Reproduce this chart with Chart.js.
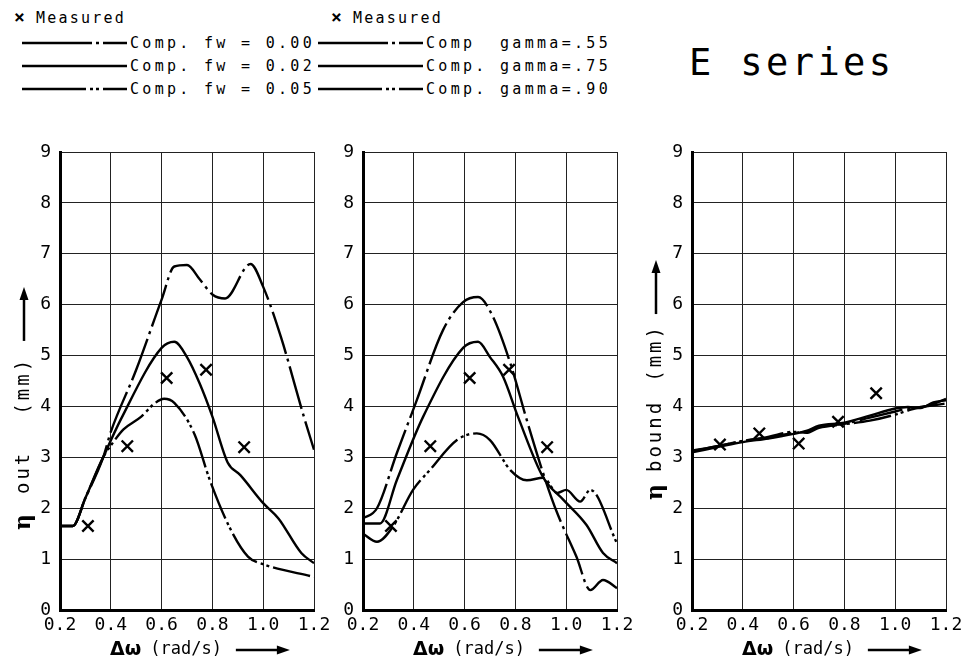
<!DOCTYPE html>
<html lang="en">
<head>
<meta charset="UTF-8">
<title>E series</title>
<script src="https://cdn.jsdelivr.net/npm/chart.js"></script>
<style>
    body {
        margin: 0;
        width: 963px;
        height: 665px;
        position: relative;
        overflow: hidden;
        background: #fff;
        color: #000;
        font-family: "DejaVu Sans Mono", monospace;
    }
    .panel {
        position: absolute;
        top: 130px;
        width: 330px;
        height: 535px;
    }
    .lg {
        position: absolute;
        font-size: 15px;
        letter-spacing: 3.3px;
        white-space: pre;
        line-height: 16px;
        height: 16px;
    }
    .lg svg {
        position: absolute;
    }
    .lg b {
        font-size: 18px;
        letter-spacing: 0;
    }
    .title {
        position: absolute;
        left: 689px;
        top: 44px;
        font-size: 37px;
        line-height: 37px;
        letter-spacing: 3.4px;
        white-space: pre;
    }
</style>
</head>
<body>
<div id="legend"></div>
<div class="title">E series</div>
<div class="panel" style="left:0"><canvas id="out1" width="330" height="535"></canvas></div>
<div class="panel" style="left:303px"><canvas id="out2" width="330" height="535"></canvas></div>
<div class="panel" style="left:632px"><canvas id="bound" width="330" height="535"></canvas></div>
<script>
// axis ticks
const xTicks = [0.2, 0.4, 0.6, 0.8, 1.0, 1.2];
const yTicks = [0, 1, 2, 3, 4, 5, 6, 7, 8, 9];

// measured points (same x in all three panels)
const measuredX = [0.31, 0.465, 0.62, 0.775, 0.925];
const measuredOutY = [1.65, 3.22, 4.56, 4.72, 3.2];
const measuredBoundY = [3.25, 3.47, 3.27, 3.7, 4.26];

// left panel: computed, different fw
const fw000X = [0.2, 0.25, 0.3, 0.37, 0.4, 0.5, 0.6, 0.65, 0.7, 0.75, 0.8, 0.85, 0.95, 1.0, 1.07, 1.16, 1.2];
const fw000Y = [1.65, 1.65, 2.2, 3.0, 3.5, 4.72, 6.1, 6.75, 6.78, 6.5, 6.2, 6.12, 6.8, 6.35, 5.36, 3.8, 3.15];
const fw002X = [0.2, 0.25, 0.3, 0.37, 0.44, 0.6, 0.65, 0.7, 0.75, 0.8, 0.86, 0.91, 1.0, 1.06, 1.15, 1.2];
const fw002Y = [1.65, 1.65, 2.2, 3.0, 3.75, 5.15, 5.27, 4.97, 4.45, 3.8, 2.9, 2.65, 2.1, 1.8, 1.12, 0.92];
const fw005X = [0.2, 0.25, 0.3, 0.37, 0.41, 0.45, 0.52, 0.57, 0.61, 0.65, 0.73, 0.79, 0.87, 0.94, 1.0, 1.2];
const fw005Y = [1.65, 1.65, 2.2, 3.0, 3.3, 3.55, 3.8, 4.05, 4.15, 4.07, 3.45, 2.55, 1.6, 1.05, 0.9, 0.65];

// middle panel: computed, different gamma
const g55X = [0.2, 0.255, 0.333, 0.41, 0.515, 0.594, 0.653, 0.708, 0.78, 0.845, 0.915, 0.965, 1.04, 1.095, 1.145, 1.2];
const g55Y = [1.8, 2.0, 3.08, 4.1, 5.5, 6.05, 6.15, 5.8, 4.85, 3.73, 2.6, 1.9, 1.05, 0.39, 0.59, 0.43];
const g75X = [0.2, 0.267, 0.333, 0.437, 0.594, 0.653, 0.7, 0.752, 0.81, 0.91, 0.99, 1.08, 1.145, 1.2];
const g75Y = [1.7, 1.7, 2.55, 3.8, 5.15, 5.27, 4.97, 4.58, 3.8, 2.6, 2.16, 1.67, 1.12, 0.92];
const g90X = [0.2, 0.255, 0.318, 0.397, 0.463, 0.57, 0.648, 0.7, 0.78, 0.845, 0.91, 0.965, 1.0, 1.055, 1.095, 1.2];
const g90Y = [1.5, 1.34, 1.64, 2.36, 2.75, 3.34, 3.47, 3.34, 2.75, 2.55, 2.6, 2.3, 2.36, 2.13, 2.36, 1.31];

// right panel: bound wave, three almost equal curves
const boundX = [0.2, 0.3, 0.4, 0.5, 0.6, 0.65, 0.7, 0.8, 0.9, 1.0, 1.05, 1.1, 1.15, 1.2];
const boundAY = [3.12, 3.22, 3.32, 3.38, 3.48, 3.5, 3.6, 3.66, 3.78, 3.9, 3.96, 3.98, 4.05, 4.15];
const boundBY = [3.1, 3.2, 3.3, 3.37, 3.46, 3.52, 3.62, 3.68, 3.82, 3.96, 3.99, 3.97, 4.08, 4.12];
const boundCY = [3.13, 3.22, 3.32, 3.4, 3.5, 3.48, 3.58, 3.65, 3.72, 3.84, 3.92, 3.99, 4.02, 4.06];

// line styles
const dashDot = [44, 5, 3, 5];
const dashDotDot = [38, 4, 3, 3, 3, 4];

const pts = (xs, ys) => xs.map((x, i) => ({ x: x, y: ys[i] }));

function line(xs, ys, dash) {
    return {
        data: pts(xs, ys),
        showLine: true,
        borderColor: '#000',
        borderWidth: 2.4,
        borderDash: dash,
        pointRadius: 0,
        cubicInterpolationMode: 'monotone'
    };
}

function measured(ys) {
    return {
        data: pts(measuredX, ys),
        showLine: false,
        pointStyle: 'crossRot',
        pointRadius: 8,
        borderColor: '#000',
        borderWidth: 2.4
    };
}

function arrow(ctx, x1, y1, x2, y2) {
    const ang = Math.atan2(y2 - y1, x2 - x1);
    ctx.lineWidth = 2.5;
    ctx.beginPath();
    ctx.moveTo(x1, y1);
    ctx.lineTo(x2 - 10 * Math.cos(ang), y2 - 10 * Math.sin(ang));
    ctx.stroke();
    ctx.beginPath();
    ctx.moveTo(x2, y2);
    ctx.lineTo(x2 - 13 * Math.cos(ang) + 4.5 * Math.sin(ang), y2 - 13 * Math.sin(ang) - 4.5 * Math.cos(ang));
    ctx.lineTo(x2 - 13 * Math.cos(ang) - 4.5 * Math.sin(ang), y2 - 13 * Math.sin(ang) + 4.5 * Math.cos(ang));
    ctx.closePath();
    ctx.fill();
}

// axis titles with arrows, like the plotter drew them
const axisTitles = {
    id: 'axisTitles',
    afterDraw(chart, args, opts) {
        const ctx = chart.ctx;
        const a = chart.chartArea;
        ctx.save();
        ctx.fillStyle = '#000';
        ctx.strokeStyle = '#000';
        ctx.textBaseline = 'middle';
        ctx.textAlign = 'left';

        // x title
        let x = a.left + 50;
        const y = a.bottom + 40;
        ctx.font = 'bold 19px "DejaVu Sans"';
        ctx.fillText('Δω', x, y);
        x += ctx.measureText('Δω').width + 9;
        ctx.font = '17px "DejaVu Sans Mono"';
        ctx.fillText('(rad/s)', x, y);
        x += ctx.measureText('(rad/s)').width + 14;
        arrow(ctx, x, y, x + 54, y);

        // y title, rotated
        if (opts.word) {
            ctx.translate(a.left - 36, a.bottom - opts.start);
            ctx.rotate(-Math.PI / 2);
            let p = 0;
            ctx.font = 'bold 22px "DejaVu Serif"';
            ctx.fillText('η', p, 0);
            p += ctx.measureText('η').width + opts.gaps[0];
            ctx.font = '19px "DejaVu Sans Mono"';
            ctx.letterSpacing = '3px';
            ctx.fillText(opts.word, p, 0);
            p += ctx.measureText(opts.word).width + opts.gaps[1];
            ctx.fillText('(mm)', p, 0);
            p += ctx.measureText('(mm)').width + opts.gaps[2];
            ctx.letterSpacing = '0px';
            arrow(ctx, p, 0, p + 54, 0);
        }
        ctx.restore();
    }
};

function makePanel(id, datasets, word, start, gaps) {
    return new Chart(document.getElementById(id), {
        type: 'scatter',
        data: { datasets: datasets },
        plugins: [axisTitles],
        options: {
            responsive: false,
            animation: false,
            layout: { padding: { left: 0, right: 16, top: 22, bottom: 0 } },
            plugins: {
                legend: { display: false },
                tooltip: { enabled: false },
                axisTitles: { word: word, start: start, gaps: gaps }
            },
            scales: {
                x: {
                    type: 'linear',
                    min: xTicks[0],
                    max: xTicks[xTicks.length - 1],
                    afterBuildTicks: s => { s.ticks = xTicks.map(v => ({ value: v })); },
                    afterFit: s => { s.height = 55; s.paddingLeft = 0; s.paddingRight = 0; },
                    grid: { color: '#222', lineWidth: 1, drawTicks: false },
                    border: { color: '#000', width: 3 },
                    ticks: {
                        autoSkip: false,
                        maxRotation: 0,
                        padding: 5,
                        color: '#000',
                        font: { family: 'DejaVu Sans Mono', size: 18 },
                        callback: v => v.toFixed(1)
                    }
                },
                y: {
                    min: yTicks[0],
                    max: yTicks[yTicks.length - 1],
                    afterBuildTicks: s => { s.ticks = yTicks.map(v => ({ value: v })); },
                    afterFit: s => { s.width = 60; s.paddingTop = 0; s.paddingBottom = 0; },
                    grid: { color: '#222', lineWidth: 1, drawTicks: false },
                    border: { color: '#000', width: 3 },
                    ticks: {
                        padding: 9,
                        color: '#000',
                        font: { family: 'DejaVu Sans Mono', size: 18 }
                    }
                }
            }
        }
    });
}

makePanel('out1', [
    line(fw000X, fw000Y, dashDot),
    line(fw002X, fw002Y, []),
    line(fw005X, fw005Y, dashDotDot),
    measured(measuredOutY)
], 'out', 80, [20, 36, 16]);

makePanel('out2', [
    line(g55X, g55Y, dashDot),
    line(g75X, g75Y, []),
    line(g90X, g90Y, dashDotDot),
    measured(measuredOutY)
], null, 0, null);

makePanel('bound', [
    line(boundX, boundAY, dashDot),
    line(boundX, boundBY, []),
    line(boundX, boundCY, dashDotDot),
    measured(measuredBoundY)
], 'bound', 110, [12, 18, 10]);

// legend above the first two panels
const legendRows = [
    { x: 22, text: 'Comp. fw = 0.00', dash: '70 4 3 4 100' },
    { x: 22, text: 'Comp. fw = 0.02', dash: '' },
    { x: 22, text: 'Comp. fw = 0.05', dash: '64 4 3 3 3 4 100' },
    { x: 318, text: 'Comp  gamma=.55', dash: '70 4 3 4 100' },
    { x: 318, text: 'Comp. gamma=.75', dash: '' },
    { x: 318, text: 'Comp. gamma=.90', dash: '64 4 3 3 3 4 100' }
];
const rowY = [43, 66, 89];
const legend = document.getElementById('legend');
[14, 331].forEach(x => {
    const d = document.createElement('div');
    d.className = 'lg';
    d.style.left = x + 'px';
    d.style.top = (17 - 8) + 'px';
    d.style.letterSpacing = '2.2px';
    d.innerHTML = '<b>×</b> Measured';
    legend.appendChild(d);
});
legendRows.forEach((r, i) => {
    const y = rowY[i % 3];
    const d = document.createElement('div');
    d.className = 'lg';
    d.style.left = r.x + 'px';
    d.style.top = (y - 8) + 'px';
    d.innerHTML = '<svg width="105" height="6" style="left:0;top:5px"><line x1="0" y1="3" x2="105" y2="3" stroke="#000" stroke-width="2.4" stroke-dasharray="' + r.dash + '"/></svg>' +
        '<span style="position:absolute;left:108px;top:0">' + r.text + '</span>';
    legend.appendChild(d);
});
</script>
</body>
</html>
